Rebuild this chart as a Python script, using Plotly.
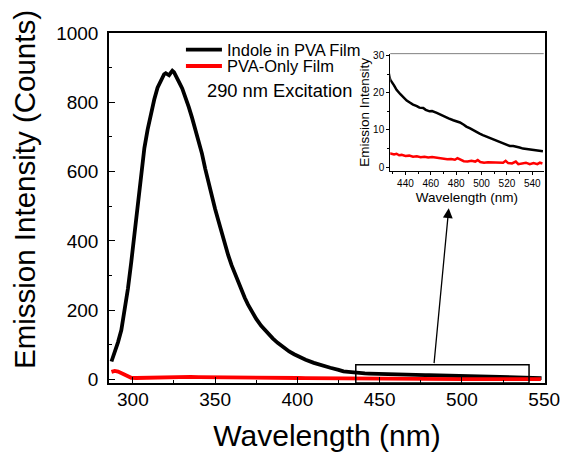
import plotly.graph_objects as go

# Emission spectra under 290 nm excitation (wavelength in nm, intensity in counts)
indole_wl = [287, 289, 291, 293, 295, 297, 299, 301, 303, 305, 307, 309, 311, 313, 315,
             317, 318, 319, 320, 321, 322, 323, 324, 325, 326, 327, 328, 330, 332, 334,
             336, 338, 340, 342, 344, 346, 348, 350, 352, 355, 358, 360, 363, 365, 368,
             370, 373, 375, 378, 380, 383, 385, 388, 390, 393, 395, 398, 400, 405, 410,
             415, 420, 425, 428, 431, 433, 436, 438.5, 441, 443.7, 446, 449, 451, 454,
             456, 459, 461, 464.7, 467, 470, 474, 477.7, 480, 483, 486, 488, 491, 493,
             496, 498.5, 501, 504, 506.6, 509, 511.8, 514, 517, 520, 522.3, 525, 527.5,
             530, 532.7, 535, 538, 541, 544, 546, 548.4]
indole_counts = [52, 78, 108, 143, 195, 262, 338, 425, 515, 600, 668, 722, 768, 808, 842,
                 864, 875, 881, 884, 879, 878, 885, 891, 887, 879, 869, 859, 840, 815, 786,
                 755, 722, 690, 652, 608, 566, 528, 492, 458, 405, 358, 330, 292, 268, 236,
                 216, 190, 175, 155, 144, 128, 119, 106, 98, 88, 81, 73, 68, 57, 48,
                 40, 34, 28, 23.5, 22.0, 20.8, 19.6, 18.6, 17.9, 17.3, 16.8, 16.4, 16.0, 15.9,
                 15.4, 15.0, 15.1, 14.6, 14.2, 13.7, 13.1, 12.6, 12.4, 12.0, 11.4, 10.9, 10.4, 10.0,
                 9.3, 9.0, 8.6, 8.2, 7.7, 7.4, 7.1, 6.8, 6.4, 6.0, 5.7, 5.7, 5.6,
                 5.3, 5.0, 4.9, 4.7, 4.6, 4.4, 4.4, 4.3]

pva_wl = [287, 289, 291, 293, 295, 297, 299, 302, 305, 310, 315, 320, 325, 330, 335,
          340, 345, 350, 355, 360, 365, 370, 375, 380, 385, 390, 395, 400, 405, 410,
          415, 420, 425, 429, 431, 433, 435, 437, 440, 443, 446, 449, 452, 455, 458,
          461, 464, 467, 470, 473, 476, 479, 481, 483, 486, 489, 492, 495, 497, 499,
          502, 505, 508, 511, 514, 517, 519, 521, 524, 527, 529, 532, 535, 538, 541,
          544, 546, 548]
pva_counts = [22, 25, 23, 19, 13, 8, 5, 4.5, 5, 5.5, 6.5, 7, 7.5, 7.5, 7.5,
              7, 7, 6.5, 6, 6, 5.5, 5.5, 5, 5, 5, 4.5, 4.5, 4.5, 4, 4,
              4, 4, 3.8, 3.6, 3.4, 3.6, 3.2, 3.3, 3.0, 3.1, 2.8, 2.9, 2.7, 2.8, 2.6,
              2.7, 2.5, 2.4, 2.3, 2.1, 2.2, 2.0, 2.4, 2.0, 1.6, 1.5, 1.7, 1.5, 1.9, 1.4,
              1.2, 1.3, 1.3, 1.2, 1.4, 1.2, 1.7, 1.1, 1.0, 1.5, 0.8, 1.0, 1.2, 0.8, 1.1,
              0.8, 1.2, 1.0]

series_names = ["Indole in PVA Film", "PVA-Only Film"]
series_colors = ["#000000", "#ff0000"]
series_legends = ["legend", "legend2"]

main_x_range = [285.5, 550.5]
main_y_range = [-10, 1000]
inset_x_range = [428, 549]
inset_y_range = [-1, 30.5]

# region of the main plot that the inset magnifies
zoom_box_x = [435.5, 540.8]
zoom_box_top = 43

FONT = "Liberation Sans"

series = list(zip([indole_wl, pva_wl], [indole_counts, pva_counts],
                  series_names, series_colors, series_legends))

fig = go.Figure()

for wl, counts, name, color, leg in series:
    fig.add_trace(go.Scatter(x=wl, y=counts, mode="lines", name=name, legend=leg,
                             line=dict(color=color, width=3.8),
                             xaxis="x", yaxis="y"))
for wl, counts, name, color, leg in series:
    fig.add_trace(go.Scatter(x=wl, y=counts, mode="lines", name=name, showlegend=False,
                             line=dict(color=color, width=2.5),
                             xaxis="x2", yaxis="y2"))

legend_style = dict(xanchor="left", yanchor="top", bgcolor="rgba(0,0,0,0)",
                    font=dict(size=16.5, color="black"), itemwidth=36)

fig.update_layout(
    width=561, height=452,
    margin=dict(l=108.5, r=16, t=32.7, b=69, autoexpand=False),
    paper_bgcolor="white", plot_bgcolor="white",
    font=dict(family=FONT, color="black"),
    showlegend=True,
    legend=dict(x=0.165, y=1.002, **legend_style),
    legend2=dict(x=0.165, y=0.955, **legend_style),
    xaxis=dict(domain=[0, 1], anchor="y", range=main_x_range, automargin=False,
               tickmode="linear", tick0=300, dtick=50,
               ticks="inside", ticklen=6, tickwidth=1.3, tickcolor="black",
               minor=dict(dtick=25, tick0=300, ticks="inside", ticklen=3, tickcolor="black"),
               showline=True, linewidth=1.5, linecolor="black", mirror=True,
               showgrid=False, zeroline=False,
               tickfont=dict(size=19), ticklabelstandoff=-2,
               title=dict(text="Wavelength (nm)", font=dict(size=30), standoff=23)),
    yaxis=dict(domain=[0, 1], anchor="x", range=main_y_range, automargin=False,
               tickmode="linear", tick0=0, dtick=200,
               ticks="inside", ticklen=6, tickwidth=1.3, tickcolor="black",
               minor=dict(dtick=100, tick0=0, ticks="inside", ticklen=3, tickcolor="black"),
               showline=True, linewidth=1.5, linecolor="black", mirror=True,
               showgrid=False, zeroline=False,
               tickfont=dict(size=19), ticklabelstandoff=5),
    xaxis2=dict(domain=[0.645, 0.997], anchor="y2", range=inset_x_range, automargin=False,
                tickmode="linear", tick0=440, dtick=20,
                ticks="outside", ticklen=3, tickwidth=1, tickcolor="black",
                minor=dict(dtick=10, tick0=440, ticks="outside", ticklen=2, tickcolor="black"),
                showline=True, linewidth=1, linecolor="black",
                showgrid=False, zeroline=False,
                tickfont=dict(size=10),
                title=dict(text="Wavelength (nm)", font=dict(size=13.5), standoff=4)),
    yaxis2=dict(domain=[0.606, 0.941], anchor="x2", range=inset_y_range, automargin=False,
                tickmode="linear", tick0=0, dtick=10,
                ticks="outside", ticklen=3, tickwidth=1, tickcolor="black",
                minor=dict(dtick=5, tick0=0, ticks="outside", ticklen=2, tickcolor="black"),
                showline=True, linewidth=1, linecolor="black",
                showgrid=False, zeroline=False,
                tickfont=dict(size=10),
                title=dict(text="Emission Intensity", font=dict(size=13.5), standoff=0)),
    shapes=[
        dict(type="rect", xref="x", yref="y",
             x0=zoom_box_x[0], x1=zoom_box_x[1], y0=main_y_range[0], y1=zoom_box_top,
             line=dict(color="black", width=1.5)),
        dict(type="line", xref="x2 domain", yref="y2 domain",
             x0=0, x1=1, y0=1, y1=1, line=dict(color="#808080", width=1)),
    ],
    annotations=[
        dict(text="Emission Intensity (Counts)", textangle=-90,
             xref="paper", yref="paper", x=-0.1936, y=0.553,
             xanchor="center", yanchor="middle", showarrow=False,
             font=dict(size=29.5)),
        dict(text="290 nm Excitation", xref="paper", yref="paper",
             x=0.39, y=0.835, xanchor="center", yanchor="middle",
             showarrow=False, font=dict(size=18.3)),
        dict(text="", xref="x", yref="y", x=492, y=494,
             axref="x", ayref="y", ax=483, ay=zoom_box_top,
             showarrow=True, arrowhead=2, arrowsize=1.5, arrowwidth=1.3,
             arrowcolor="black"),
    ],
)

fig.write_html("out.html", config={"displayModeBar": False})
